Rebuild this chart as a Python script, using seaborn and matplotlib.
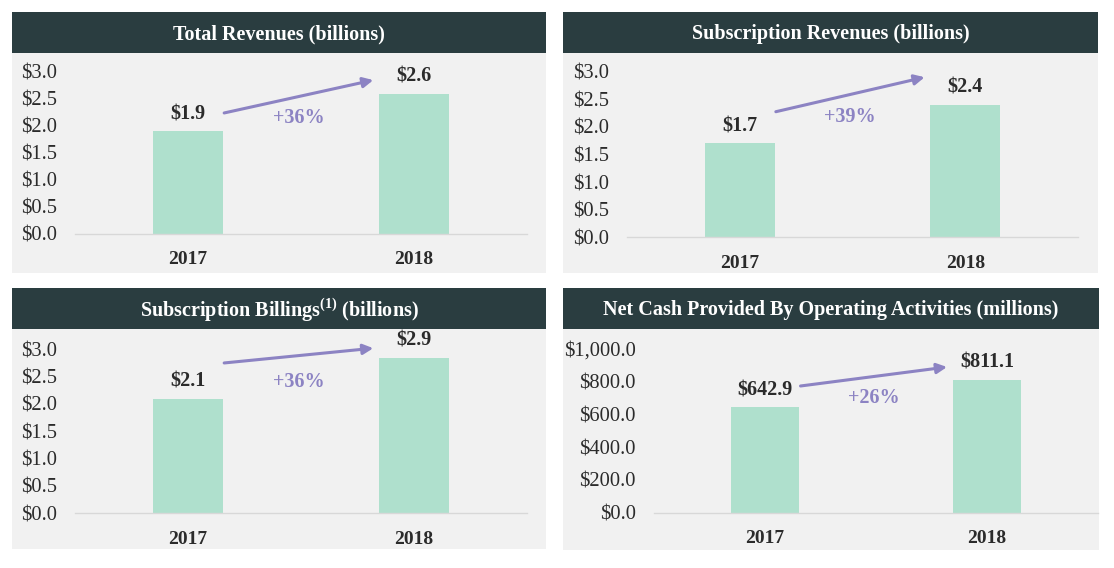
import matplotlib
matplotlib.use("Agg")
import matplotlib.pyplot as plt
import matplotlib.ticker as mticker
from matplotlib.patches import Rectangle
import seaborn as sns
import pandas as pd

# ---------------- data ----------------
years = ["2017", "2018"]
titles = [
    "Total Revenues (billions)",
    "Subscription Revenues (billions)",
    r"Subscription Billings$^{\mathbf{(1)}}$ (billions)",
    "Net Cash Provided By Operating Activities (millions)",
]
total_revenues = [1.9, 2.6]
subscription_revenues = [1.7, 2.4]
subscription_billings = [2.1, 2.85]
net_cash_ops = [642.9, 811.1]

value_labels = [
    ["$1.9", "$2.6"],
    ["$1.7", "$2.4"],
    ["$2.1", "$2.9"],
    ["$642.9", "$811.1"],
]
growth_labels = ["+36%", "+39%", "+36%", "+26%"]
# arrow start / end heights and growth-label heights (data units)
arrow_y = [(2.24, 2.85), (2.275, 2.90), (2.75, 3.02), (774, 890)]
growth_y = [2.15, 2.18, 2.41, 701]

billion_ticks = [0.0, 0.5, 1.0, 1.5, 2.0, 2.5, 3.0]
million_ticks = [0, 200, 400, 600, 800, 1000]

series = [total_revenues, subscription_revenues, subscription_billings, net_cash_ops]
tick_sets = [billion_ticks, billion_ticks, billion_ticks, million_ticks]
tick_fmt = ["${x:.1f}", "${x:.1f}", "${x:.1f}", "${x:,.1f}"]

# ---------------- style ----------------
HEADER = "#2a3d40"
PANEL = "#f1f1f1"
BAR = "#afe0cd"
ARROW = "#8c83c3"
TEXT = "#2b2b2b"

sns.set_theme(style="white")
plt.rcParams["font.family"] = ["Liberation Serif", "DejaVu Serif"]
plt.rcParams["mathtext.fontset"] = "custom"
plt.rcParams["mathtext.rm"] = "Liberation Serif"
plt.rcParams["mathtext.bf"] = "Liberation Serif:bold"

W, H = 1114, 568
fig = plt.figure(figsize=(W / 100, H / 100), dpi=100)
fig.patch.set_facecolor("white")


def fx(x):
    return x / W


def fy(y):
    return 1 - y / H


# panel boxes: (left, right, header_top, header_bottom, panel_bottom)
panels = [
    (12, 546, 12, 53, 273),
    (563, 1098, 12, 53, 273),
    (12, 546, 288, 329, 549),
    (563, 1099, 288, 329, 550),
]
# axes boxes: (left, right, top, bottom) in pixels
axes_px = [
    (75, 527, 72.0, 233.7),
    (627, 1078, 71.7, 237.3),
    (75, 527, 349.3, 513.3),
    (654, 1098, 349.0, 512.7),
]

for i in range(4):
    l, r, ht, hb, pb = panels[i]
    fig.add_artist(Rectangle((fx(l), fy(pb)), (r - l) / W, (pb - hb) / H,
                             transform=fig.transFigure, facecolor=PANEL,
                             edgecolor="none", zorder=0))
    fig.add_artist(Rectangle((fx(l), fy(hb)), (r - l) / W, (hb - ht) / H,
                             transform=fig.transFigure, facecolor=HEADER,
                             edgecolor="none", zorder=0))
    fig.text(fx((l + r) / 2), fy((ht + hb) / 2 + 2), titles[i], color="white",
             fontsize=14.5, fontweight="bold", ha="center", va="center")

    al, ar, at, ab = axes_px[i]
    ax = fig.add_axes([fx(al), fy(ab), (ar - al) / W, (ab - at) / H])
    ax.set_facecolor("none")

    df = pd.DataFrame({"year": years, "value": series[i]})
    sns.barplot(data=df, x="year", y="value", order=years, ax=ax,
                color=BAR, saturation=1, width=0.31, edgecolor="none")

    ticks = tick_sets[i]
    ax.set_ylim(ticks[0], ticks[-1])
    ax.set_xlim(-0.5, 1.5)
    ax.set_yticks(ticks)
    ax.yaxis.set_major_formatter(mticker.StrMethodFormatter(tick_fmt[i]))
    ax.set_xlabel("")
    ax.set_ylabel("")
    ax.tick_params(axis="y", length=0, pad=13, labelsize=14.8, labelcolor=TEXT)
    ax.tick_params(axis="x", length=0, pad=12.5, labelsize=14, labelcolor=TEXT)
    for lab in ax.get_xticklabels():
        lab.set_fontweight("bold")
    for s in ["top", "left", "right"]:
        ax.spines[s].set_visible(False)
    ax.spines["bottom"].set_color("#d8d8d8")
    ax.spines["bottom"].set_linewidth(1)
    ax.grid(False)

    for j, v in enumerate(series[i]):
        ax.annotate(value_labels[i][j], xy=(j, v), xytext=(0, 5),
                    textcoords="offset points", ha="center", va="bottom",
                    fontsize=14.5, fontweight="bold", color=TEXT,
                    annotation_clip=False)

    y0, y1 = arrow_y[i]
    ax.annotate("", xy=(0.82, y1), xytext=(0.16, y0),
                arrowprops=dict(arrowstyle="-|>", color=ARROW, lw=2.2,
                                mutation_scale=15, shrinkA=0, shrinkB=0),
                annotation_clip=False)
    ax.text(0.49, growth_y[i], growth_labels[i], color=ARROW, fontsize=14.5,
            fontweight="bold", ha="center", va="center", clip_on=False)

fig.savefig("out.png", dpi=100, facecolor="white")
